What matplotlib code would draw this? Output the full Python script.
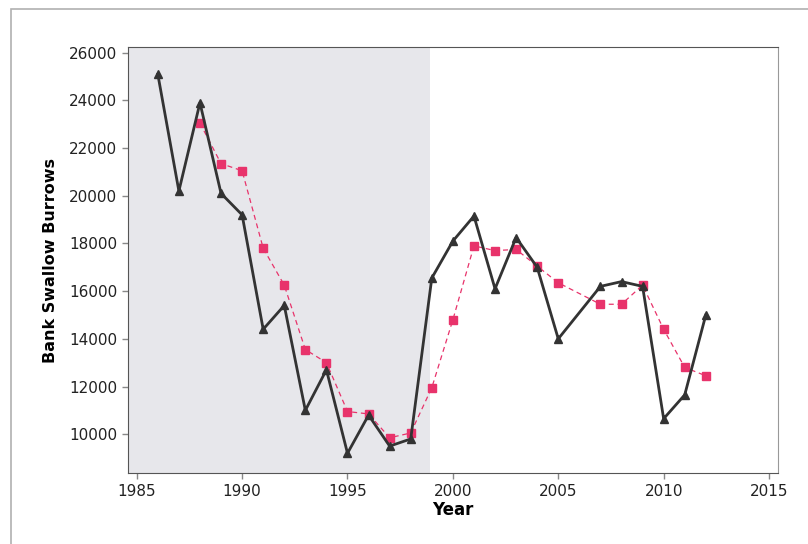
import matplotlib.pyplot as plt
from matplotlib.patches import Rectangle

# burrow counts by year (no survey in 2006)
years = [1986, 1987, 1988, 1989, 1990, 1991, 1992, 1993, 1994, 1995, 1996, 1997,
         1998, 1999, 2000, 2001, 2002, 2003, 2004, 2005, 2007, 2008, 2009, 2010,
         2011, 2012]
burrows = [25100, 20200, 23900, 20100, 19200, 14400, 15400, 11000, 12700, 9200,
           10800, 9500, 9800, 16550, 18100, 19150, 16100, 18250, 17000, 14000,
           16200, 16400, 16200, 10650, 11650, 15000]

# three-year running mean
avg_years = [1988, 1989, 1990, 1991, 1992, 1993, 1994, 1995, 1996, 1997, 1998,
             1999, 2000, 2001, 2002, 2003, 2004, 2005, 2007, 2008, 2009, 2010,
             2011, 2012]
avg_burrows = [23050, 21350, 21050, 17800, 16250, 13550, 13000, 10950, 10850,
               9850, 10050, 11950, 14800, 17900, 17700, 17750, 17050, 16350,
               15450, 15450, 16250, 14400, 12800, 12450]

shade_end = 1998.9
xticks = [1985, 1990, 1995, 2000, 2005, 2010, 2015]
yticks = [10000, 12000, 14000, 16000, 18000, 20000, 22000, 24000, 26000]

fig = plt.figure(figsize=(8.08, 5.44), dpi=100)
ax = fig.add_axes([0.158, 0.13, 0.805, 0.784])

# outer frame
fig.patches.append(Rectangle((11 / 808, -0.02), 1.2, 1 - 9 / 544 + 0.02,
                             transform=fig.transFigure, fill=False,
                             edgecolor='#b0b0b0', linewidth=1.2))

ax.set_xlim(1984.57, 2015.43)
ax.set_ylim(8360, 26250)
ax.axvspan(1984.57, shade_end, color='#e7e7eb', zorder=0, linewidth=0)

ax.plot(avg_years, avg_burrows, color='#e8336b', linestyle='--', linewidth=0.9,
        marker='s', markersize=5.5, zorder=2, dashes=(4, 3))
ax.plot(years, burrows, color='#333333', linewidth=2, marker='^',
        markersize=6, zorder=3)

ax.set_xticks(xticks)
ax.set_yticks(yticks)
ax.tick_params(axis='both', labelsize=11, colors='#222222', length=4,
               width=1, direction='out')
ax.tick_params(axis='both', color='#888888')

ax.set_xlabel('Year', fontsize=12, fontweight='bold', labelpad=2)
ax.set_ylabel('Bank Swallow Burrows', fontsize=11.5, fontweight='bold', labelpad=8)

for side in ['left', 'bottom', 'top']:
    ax.spines[side].set_color('#555555')
ax.spines['right'].set_color('#999999')

plt.savefig('out.png', dpi=100)
